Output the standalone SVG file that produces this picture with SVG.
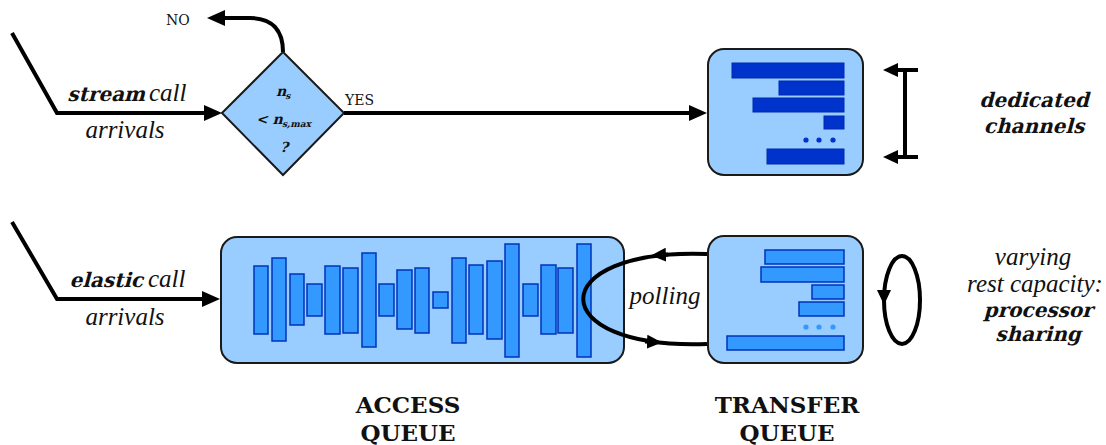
<svg xmlns="http://www.w3.org/2000/svg" width="1106" height="445" viewBox="0 0 1106 445">
  <style>
    .box { fill: #99ccff; stroke: #1a1a1a; stroke-width: 2; }
    .dark { fill: #0033cc; stroke: #0028b0; stroke-width: 1; }
    .light { fill: #3399ff; stroke: #0033bb; stroke-width: 1.5; }
    .wire { fill: none; stroke: #000; stroke-width: 4; stroke-linejoin: miter; }
    .it { font-family: "Liberation Serif", "DejaVu Serif", serif; font-style: italic; font-size: 25px; fill: #111; }
    .fb { font-family: "DejaVu Serif", "Liberation Serif", serif; font-weight: bold; font-size: 20px; fill: #111; }
    .cap { font-family: "DejaVu Serif", "Liberation Serif", serif; font-weight: bold; font-size: 23px; text-anchor: middle; fill: #111; }
    .small { font-family: "DejaVu Serif", "Liberation Serif", serif; font-size: 14px; fill: #111; }
    .dia { font-family: "DejaVu Serif", "Liberation Serif", serif; font-weight: bold; font-size: 14px; fill: #111; }
    .mid { text-anchor: middle; }
  </style>
  <defs>
    <marker id="arrow" markerUnits="userSpaceOnUse" markerWidth="18" markerHeight="16" viewBox="0 0 18 16" refX="12" refY="8" orient="auto">
      <path d="M0,0 L18,8 L0,16 z" fill="#000"/>
    </marker>
    <marker id="arrowS" markerUnits="userSpaceOnUse" markerWidth="15" markerHeight="14" viewBox="0 0 15 14" refX="9" refY="7" orient="auto">
      <path d="M0,0 L15,7 L0,14 z" fill="#000"/>
    </marker>
  </defs>

  <!-- admission test -->
  <g id="admission">
    <polygon class="box" points="222,113 283,52 344,113 283,175"/>
    <text class="dia" transform="translate(276,96) skewX(-15)">n<tspan font-size="9" dy="3">s</tspan></text>
    <text class="dia" transform="translate(256,124) skewX(-15)">&lt; n<tspan font-size="9" dy="3">s,max</tspan></text>
    <text class="dia" transform="translate(280,152) skewX(-15)">?</text>
    <text class="small" x="166" y="25">NO</text>
    <text class="small" x="345" y="105">YES</text>
  </g>

  <!-- dedicated channels -->
  <g id="dedicated">
    <rect class="box" x="708" y="49" width="155" height="126" rx="16"/>
    <rect class="dark" x="732" y="63" width="112" height="15"/>
    <rect class="dark" x="779" y="81" width="65" height="14"/>
    <rect class="dark" x="753" y="98" width="91" height="14"/>
    <rect class="dark" x="824" y="116" width="20" height="13"/>
    <circle cx="806" cy="140" r="2.6" fill="#0033cc"/>
    <circle cx="819" cy="140" r="2.6" fill="#0033cc"/>
    <circle cx="833" cy="140" r="2.6" fill="#0033cc"/>
    <rect class="dark" x="767" y="149" width="77" height="15"/>
  </g>

  <!-- access queue -->
  <g id="access-queue">
    <rect class="box" x="221" y="237" width="403" height="126" rx="16"/>
    <rect class="light" x="254" y="266" width="14" height="68"/>
    <rect class="light" x="272" y="258" width="14" height="83"/>
    <rect class="light" x="290" y="274" width="14" height="51"/>
    <rect class="light" x="307" y="284" width="15" height="32"/>
    <rect class="light" x="325" y="266" width="15" height="68"/>
    <rect class="light" x="343" y="268" width="15" height="65"/>
    <rect class="light" x="362" y="253" width="14" height="94"/>
    <rect class="light" x="379" y="284" width="15" height="32"/>
    <rect class="light" x="397" y="270" width="15" height="59"/>
    <rect class="light" x="415" y="268" width="14" height="65"/>
    <rect class="light" x="433" y="292" width="15" height="16"/>
    <rect class="light" x="452" y="258" width="14" height="85"/>
    <rect class="light" x="469" y="265" width="14" height="69"/>
    <rect class="light" x="487" y="261" width="15" height="78"/>
    <rect class="light" x="505" y="244" width="14" height="113"/>
    <rect class="light" x="523" y="284" width="15" height="32"/>
    <rect class="light" x="541" y="265" width="15" height="69"/>
    <rect class="light" x="558" y="268" width="15" height="65"/>
    <rect class="light" x="577" y="244" width="14" height="113"/>
    <text class="cap" x="408" y="413">ACCESS</text>
    <text class="cap" x="408" y="441">QUEUE</text>
  </g>

  <!-- transfer queue -->
  <g id="transfer-queue">
    <rect class="box" x="708" y="236" width="155" height="127" rx="16"/>
    <rect class="light" x="765" y="250" width="79" height="14"/>
    <rect class="light" x="761" y="267" width="83" height="15"/>
    <rect class="light" x="812" y="285" width="32" height="14"/>
    <rect class="light" x="799" y="302" width="45" height="14"/>
    <circle cx="806" cy="327" r="2.6" fill="#3399ff"/>
    <circle cx="819" cy="327" r="2.6" fill="#3399ff"/>
    <circle cx="833" cy="327" r="2.6" fill="#3399ff"/>
    <rect class="light" x="727" y="336" width="117" height="14"/>
    <text class="cap" x="787" y="413">TRANSFER</text>
    <text class="cap" x="787" y="441">QUEUE</text>
  </g>

  <!-- connectors, drawn over the boxes -->
  <g id="connectors">
    <path class="wire" d="M12,33 L57,113 L216,113" marker-end="url(#arrow)"/>
    <path class="wire" d="M344,113 L701,113" marker-end="url(#arrow)"/>
    <path class="wire" d="M283,52 C283,30 272,18 250,18 L213,18" marker-end="url(#arrow)"/>
    <path class="wire" d="M12,222 L57,299 L214,299" marker-end="url(#arrow)"/>
    <!-- channel bracket -->
    <path class="wire" d="M905,70 L905,157"/>
    <path class="wire" d="M918,70 L889,70" marker-end="url(#arrowS)"/>
    <path class="wire" d="M918,157 L889,157" marker-end="url(#arrowS)"/>
    <!-- polling loop -->
    <path class="wire" d="M707,254 C542,248 542,350 707,344"/>
    <path class="wire" d="M668,254.6 L657,255.2" marker-end="url(#arrowS)"/>
    <path class="wire" d="M645,341.6 L656,342.2" marker-end="url(#arrowS)"/>
    <!-- processor sharing loop -->
    <ellipse class="wire" cx="902" cy="300" rx="18" ry="44"/>
    <path class="wire" d="M884,290 L884,299" marker-end="url(#arrowS)"/>
  </g>

  <!-- labels -->
  <g id="labels">
    <text class="fb" transform="translate(145,101) skewX(-15)" text-anchor="end">stream</text>
    <text class="it" x="149" y="101">call</text>
    <text class="it mid" x="125" y="138">arrivals</text>
    <text class="fb" transform="translate(143,287) skewX(-15)" text-anchor="end">elastic</text>
    <text class="it" x="148" y="287">call</text>
    <text class="it mid" x="125" y="325">arrivals</text>
    <text class="it mid" x="665" y="304">polling</text>
    <text class="fb mid" transform="translate(1034,107) skewX(-15)">dedicated</text>
    <text class="fb mid" transform="translate(1034,133) skewX(-15)">channels</text>
    <text class="it mid" font-size="24" x="1033" y="265">varying</text>
    <text class="it mid" font-size="24" x="1035" y="292">rest capacity:</text>
    <text class="fb mid" font-size="18" transform="translate(1038,317) skewX(-15)">processor</text>
    <text class="fb mid" font-size="18" transform="translate(1038,341) skewX(-15)">sharing</text>
  </g>
</svg>
